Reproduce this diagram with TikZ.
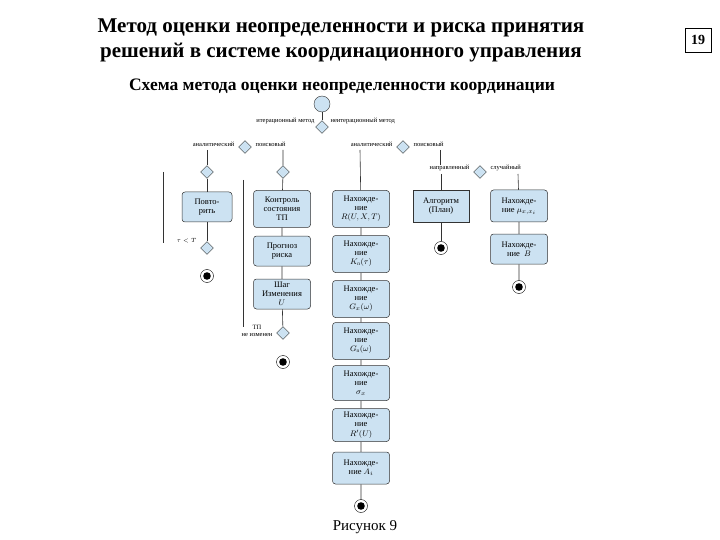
\documentclass[tikz,border=0pt]{standalone}
\usepackage{fontspec}
\setmainfont{Liberation Serif}
\usetikzlibrary{shapes.geometric}
\definecolor{bf}{RGB}{204,226,242}
\begin{document}
\begin{tikzpicture}[x=1pt,y=-1pt,
 box/.style={draw=black!80,fill=bf,rounded corners=3pt,minimum width=57pt,align=center,font=\fontsize{8.5}{9}\selectfont,inner sep=1pt,line width=0.5pt},
 dia/.style={diamond,draw=black!80,fill=bf,minimum size=13pt,inner sep=0pt},
 lbl/.style={font=\fontsize{6.5}{7}\selectfont},
 fin/.style={circle,draw,fill=white,minimum size=13pt,inner sep=0pt},
 ln/.style={draw=black!80,line width=0.6pt}]
\useasboundingbox (0,0) rectangle (720,540);
\node[font=\bfseries\fontsize{21}{25}\selectfont,align=center] (t) at (341,40) {Метод оценки неопределенности и риска принятия\\решений в системе координационного управления};
\node[draw,font=\bfseries\fontsize{14}{14}\selectfont,minimum width=26pt,minimum height=24pt,inner sep=2pt] (p) at (698,40) {19};
\node[font=\bfseries\fontsize{17.5}{18}\selectfont] (st) at (342,87) {Схема метода оценки неопределенности координации};
\node[circle,draw=black!80,fill=bf,minimum width=16pt,minimum height=12pt,inner sep=0pt] (s) at (322,104) {};
\node[dia] (d0) at (322,127) {};
\node[lbl,anchor=east] (l0a) at (318,121) {итерационный метод};
\node[lbl,anchor=west] (l0b) at (327,121) {неитерационный метод};
\draw[ln] (s) -- (d0);
\node[dia] (d1) at (245,147) {};
\node[dia] (d2) at (403,147) {};
\node[lbl,anchor=east] (l1a) at (238,144) {аналитический};
\node[lbl,anchor=west] (l1b) at (252,144) {поисковый};
\node[lbl,anchor=east] (l2a) at (396,144) {аналитический};
\node[lbl,anchor=west] (l2b) at (410,144) {поисковый};
% column 1
\coordinate (c1) at (207,150);
\node[dia] (d11) at (207,172) {};
\node[box,minimum width=50pt,minimum height=30pt] (b11) at (207,207) {Повто-\\рить};
\node[dia] (d12) at (207,248) {};
\node[lbl,anchor=east] (l12) at (200,241) {$\tau<T$};
\node[fin] (e1) at (207,276) {};
\coordinate (v1a) at (163,172); \coordinate (v1b) at (163,243);
\draw[ln] (c1) -- (d11) -- (b11) -- (d12);
\draw[ln] (v1a) -- (v1b);
% column 2
\coordinate (c2) at (283,150);
\node[dia] (d21) at (283,172) {};
\node[box,minimum height=37pt] (b21) at (282,209) {Контроль\\состояния\\ТП};
\node[box,minimum height=30pt] (b22) at (282,251) {Прогноз\\риска};
\node[box,minimum height=30pt] (b23) at (282,294) {Шаг\\Изменения\\$U$};
\node[dia] (d22) at (283,333) {};
\node[lbl,anchor=east,align=center] (l22) at (276,331) {ТП\\не изменен};
\node[fin] (e2) at (283,362) {};
\coordinate (v2a) at (243,180); \coordinate (v2b) at (243,327);
\draw[ln] (c2) -- (d21) -- (b21) -- (b22) -- (b23) -- (d22);
\draw[ln] (v2a) -- (v2b);
% column 3
\coordinate (c3) at (360,150);
\node[box,minimum height=37pt] (b31) at (361,209) {Нахожде-\\ние\\$R(U,X,T)$};
\node[box,minimum height=37pt] (b32) at (361,254) {Нахожде-\\ние\\$K_{\mbox{\tiny п}}(\tau)$};
\node[box,minimum height=37pt] (b33) at (361,299) {Нахожде-\\ние\\$G_x(\omega)$};
\node[box,minimum height=37pt] (b34) at (361,341) {Нахожде-\\ние\\$G_{\mbox{\tiny п}}(\omega)$};
\node[box,minimum height=35pt] (b35) at (361,383) {Нахожде-\\ние\\$\sigma_x$};
\node[box,minimum height=33pt,font=\fontsize{8.5}{9.5}\selectfont] (b36) at (361,425) {Нахожде-\\ние\\$R'(U)$};
\node[box,minimum height=32pt] (b37) at (361,468) {Нахожде-\\ние $A_i$};
\node[fin] (e3) at (361,506) {};
\draw[ln] (c3) -- (b31) -- (b32) -- (b33) -- (b34) -- (b35) -- (b36) -- (b37) -- (e3);
% column 4
\coordinate (c4) at (440,150);
\coordinate (c4b) at (440,165);
\node[dia] (d41) at (480,172) {};
\node[lbl,anchor=east] (l41) at (473,168) {направленный};
\node[lbl,anchor=west] (l42) at (487,168) {случайный};
\draw[ln] (c4) -- (c4b);
\coordinate (c41) at (441,174);
\node[box,rounded corners=0pt,minimum width=56pt,minimum height=32pt] (b41) at (441,206) {Алгоритм\\(План)};
\node[fin] (e4) at (441,248) {};
\draw[ln] (c41) -- (b41) -- (e4);
\coordinate (c42) at (518,174);
\node[box,minimum height=32pt] (b42) at (519,206) {Нахожде-\\ние $\mu_{x,x_i}$};
\node[box,minimum height=30pt] (b43) at (519,249) {Нахожде-\\ние \ $B$};
\node[fin] (e5) at (519,287) {};
\draw[ln] (c42) -- (b42) -- (b43) -- (e5);
\foreach \e in {e1,e2,e3,e4,e5} \fill (\e.center) circle (3.8pt);
\node[font=\fontsize{15}{15}\selectfont] (cap) at (365,527) {Рисунок 9};
\end{tikzpicture}
\end{document}
